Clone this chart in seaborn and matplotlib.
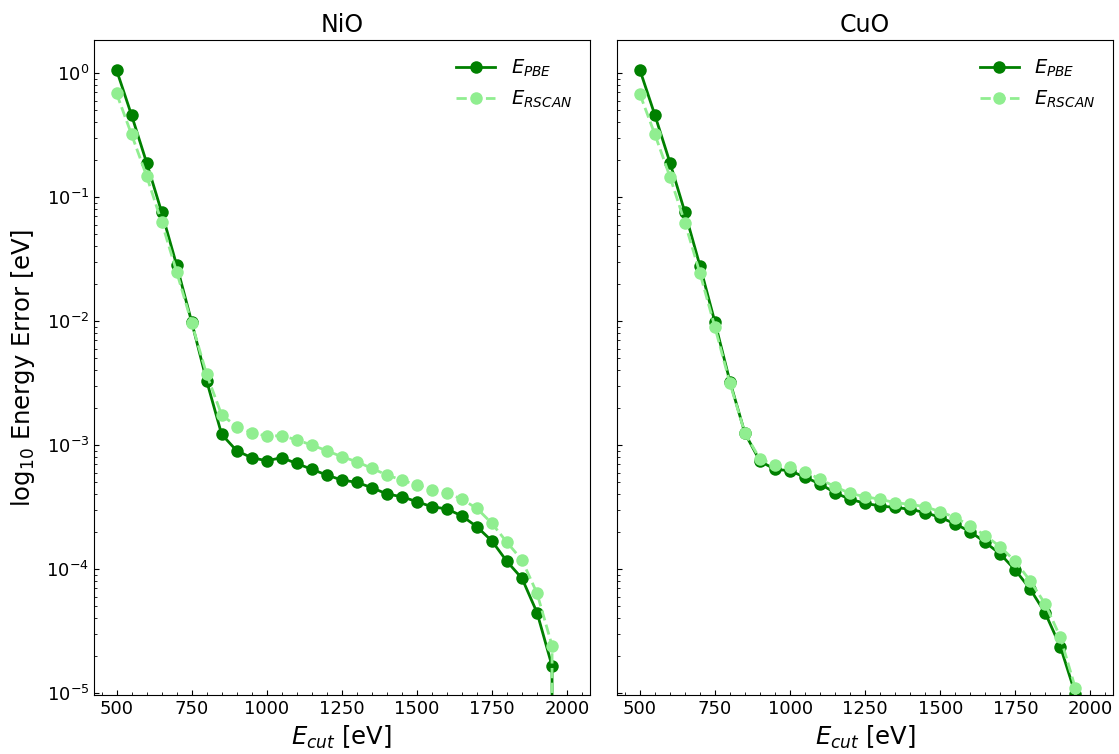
import numpy as np
import pandas as pd
import matplotlib
matplotlib.use("Agg")
import matplotlib.pyplot as plt
from matplotlib.ticker import MultipleLocator
import seaborn as sns

# Plane-wave cutoff energies (eV)
ecut = list(range(500, 2001, 50))

# Convergence errors (eV) for NiO
nio_pbe = [1.06, 0.458, 0.19, 0.076, 0.0283, 0.00988, 0.0033, 0.00122,
           9.0e-4, 7.9e-4, 7.47e-4, 7.9e-4, 7.1e-4, 6.37e-4, 5.73e-4, 5.22e-4,
           5.0e-4, 4.53e-4, 4.03e-4, 3.83e-4, 3.49e-4, 3.18e-4, 3.05e-4, 2.68e-4,
           2.19e-4, 1.68e-4, 1.15e-4, 8.4e-5, 4.45e-5, 1.65e-5, 0.0]
nio_rscan = [0.686, 0.32, 0.148, 0.0632, 0.025, 0.0097, 0.00372, 0.00175,
             1.41e-3, 1.26e-3, 1.18e-3, 1.19e-3, 1.10e-3, 1.0e-3, 9.0e-4, 8.05e-4,
             7.33e-4, 6.49e-4, 5.73e-4, 5.22e-4, 4.76e-4, 4.34e-4, 4.12e-4, 3.65e-4,
             3.08e-4, 2.33e-4, 1.64e-4, 1.18e-4, 6.37e-5, 2.41e-5, 0.0]

# Convergence errors (eV) for CuO
cuo_pbe = [1.06, 0.458, 0.19, 0.0753, 0.0279, 0.00977, 0.00324, 0.00124,
           7.4e-4, 6.37e-4, 6.2e-4, 5.5e-4, 4.85e-4, 4.12e-4, 3.65e-4, 3.39e-4,
           3.22e-4, 3.14e-4, 3.03e-4, 2.85e-4, 2.61e-4, 2.31e-4, 2.0e-4, 1.64e-4,
           1.32e-4, 9.8e-5, 6.86e-5, 4.39e-5, 2.36e-5, 9.8e-6, 0.0]
cuo_rscan = [0.677, 0.32, 0.146, 0.062, 0.0243, 0.0089, 0.00314, 0.00124,
             7.7e-4, 6.9e-4, 6.6e-4, 6.1e-4, 5.3e-4, 4.61e-4, 4.07e-4, 3.83e-4,
             3.65e-4, 3.43e-4, 3.32e-4, 3.18e-4, 2.9e-4, 2.6e-4, 2.23e-4, 1.86e-4,
             1.51e-4, 1.15e-4, 8.0e-5, 5.19e-5, 2.81e-5, 1.09e-5, 0.0]

systems = ["NiO", "CuO"]
series_labels = [r"$E_{PBE}$", r"$E_{RSCAN}$"]

plt.rcParams.update({
    "font.family": ["DejaVu Sans"],
    "xtick.direction": "in",
    "ytick.direction": "in",
})

fig, axes = plt.subplots(1, 2, figsize=(11.19, 7.54), dpi=100, sharey=True)
fig.subplots_adjust(left=0.084, right=0.9946, top=0.947, bottom=0.078, wspace=0.056)

data = {"NiO": (nio_pbe, nio_rscan), "CuO": (cuo_pbe, cuo_rscan)}

for ax, name in zip(axes, systems):
    pbe, rscan = data[name]
    df_pbe = pd.DataFrame({"ecut": ecut, "err": pbe})
    df_rscan = pd.DataFrame({"ecut": ecut, "err": rscan})
    sns.lineplot(data=df_pbe, x="ecut", y="err", ax=ax, color="green",
                 marker="o", markersize=9, markeredgewidth=0, linewidth=2,
                 estimator=None, label=series_labels[0])
    sns.lineplot(data=df_rscan, x="ecut", y="err", ax=ax, color="lightgreen",
                 marker="o", markersize=9, markeredgewidth=0, linewidth=2,
                 linestyle="--", estimator=None, label=series_labels[1])
    ax.set_yscale("log")
    ax.set_ylim(9.6e-6, 1.85)
    ax.set_xlim(425, 2075)
    ax.xaxis.set_major_locator(MultipleLocator(250))
    ax.xaxis.set_minor_locator(MultipleLocator(50))
    ax.tick_params(axis="both", which="major", labelsize=13)
    ax.set_title(name, fontsize=17)
    ax.set_xlabel(r"$E_{cut}$ [eV]", fontsize=17.5)
    ax.set_ylabel("")
    ax.legend(loc="upper right", frameon=False, fontsize=14)

axes[0].set_ylabel(r"log$_{10}$ Energy Error [eV]", fontsize=17.5, labelpad=7)

fig.savefig("out.png", dpi=100)
